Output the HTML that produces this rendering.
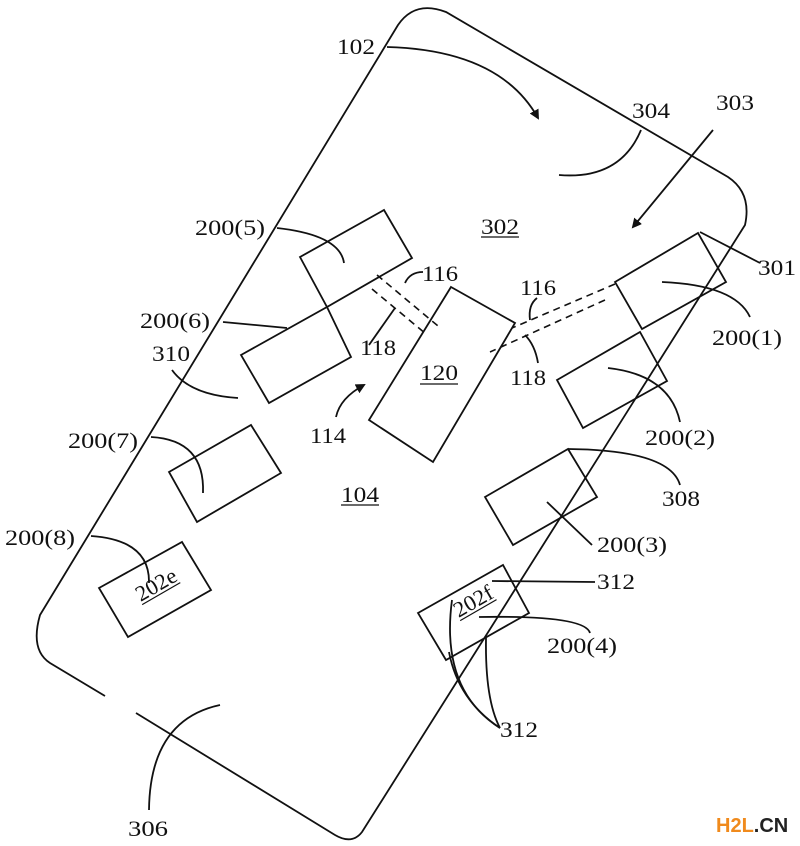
<!DOCTYPE html>
<html><head><meta charset="utf-8"><style>
html,body{margin:0;padding:0;background:#fff;}
svg{display:block;}
text{font-family:"Liberation Serif","Times New Roman",serif;font-size:22px;fill:#111;}
</style></head><body>
<svg width="800" height="846" viewBox="0 0 800 846" xmlns="http://www.w3.org/2000/svg">
<defs>
<marker id="ah" markerWidth="10" markerHeight="10" refX="8" refY="5" orient="auto" markerUnits="userSpaceOnUse"><path d="M0,0 L10,5 L0,10 z" fill="#111"/></marker>
</defs>
<g fill="none" stroke="#111" stroke-width="1.8">
<path d="M105,696 L50,663 Q30,650 40,615 L398,25 Q415,0 446,12 L728,177 Q752,193 745,225 L362,832 Q352,845 335,835 L136,713"/>
<polygon points="615,282 698,233 726,282 642,329"/>
<polygon points="557,380 640,332 667,381 583,428"/>
<polygon points="485,497 568,449 597,497 513,545"/>
<polygon points="451,287 515,323 433,462 369,420"/>
<polygon points="300,257 384,210 412,258 327,307"/>
<polygon points="241,355 327,307 351,357 269,403"/>
<polygon points="169,472 251,425 281,473 197,522"/>
<polygon points="99,588 182,542 211,590 128,637"/>
<polygon points="418,613 503,565 529,613 446,660"/>
<g stroke-dasharray="7,5" stroke-width="1.6">
<line x1="615" y1="284" x2="512" y2="328"/>
<line x1="605" y1="300" x2="490" y2="352"/>
<line x1="377" y1="275" x2="438" y2="326"/>
<line x1="372" y1="289" x2="426" y2="334"/>
</g>
<path d="M387,47 Q500,50 538,118" marker-end="url(#ah)"/>
<path d="M713,130 L633,227" marker-end="url(#ah)"/>
<path d="M641,130 Q620,180 559,175"/>
<path d="M700,232 L760,263"/>
<path d="M662,282 Q735,285 750,317"/>
<path d="M608,368 Q670,375 680,422"/>
<path d="M568,449 Q670,450 680,485"/>
<path d="M547,502 L592,545"/>
<path d="M537,298 Q528,305 530,320"/>
<path d="M525,335 Q535,345 538,363"/>
<path d="M405,283 Q410,272 423,272"/>
<path d="M395,308 L369,345"/>
<path d="M336,417 Q340,398 364,385" marker-end="url(#ah)"/>
<path d="M277,228 Q340,235 344,263"/>
<path d="M223,322 L287,328"/>
<path d="M172,370 Q190,395 238,398"/>
<path d="M151,437 Q205,440 203,493"/>
<path d="M91,536 Q150,540 149,583"/>
<path d="M492,581 L595,582"/>
<path d="M479,617 Q585,615 590,633"/>
<path d="M452,600 Q440,690 500,728"/>
<path d="M486,638 Q485,700 500,728"/>
<path d="M449,652 Q458,700 500,728"/>
<path d="M220,705 Q150,720 149,810"/>
</g>
<text x="337" y="54" textLength="38" lengthAdjust="spacingAndGlyphs">102</text>
<text x="632" y="118" textLength="38" lengthAdjust="spacingAndGlyphs">304</text>
<text x="716" y="110" textLength="38" lengthAdjust="spacingAndGlyphs">303</text>
<text x="481" y="234" textLength="38" lengthAdjust="spacingAndGlyphs">302</text>
<line x1="481" y1="237" x2="519" y2="237" stroke="#111" stroke-width="1.2"/>
<text x="758" y="275" textLength="38" lengthAdjust="spacingAndGlyphs">301</text>
<text x="195" y="235" textLength="70" lengthAdjust="spacingAndGlyphs">200(5)</text>
<text x="140" y="328" textLength="70" lengthAdjust="spacingAndGlyphs">200(6)</text>
<text x="152" y="361" textLength="38" lengthAdjust="spacingAndGlyphs">310</text>
<text x="422" y="281" textLength="36" lengthAdjust="spacingAndGlyphs">116</text>
<text x="520" y="295" textLength="36" lengthAdjust="spacingAndGlyphs">116</text>
<text x="360" y="355" textLength="36" lengthAdjust="spacingAndGlyphs">118</text>
<text x="510" y="385" textLength="36" lengthAdjust="spacingAndGlyphs">118</text>
<text x="420" y="380" textLength="38" lengthAdjust="spacingAndGlyphs">120</text>
<line x1="420" y1="384" x2="458" y2="384" stroke="#111" stroke-width="1.2"/>
<text x="712" y="345" textLength="70" lengthAdjust="spacingAndGlyphs">200(1)</text>
<text x="645" y="445" textLength="70" lengthAdjust="spacingAndGlyphs">200(2)</text>
<text x="662" y="506" textLength="38" lengthAdjust="spacingAndGlyphs">308</text>
<text x="597" y="552" textLength="70" lengthAdjust="spacingAndGlyphs">200(3)</text>
<text x="310" y="443" textLength="36" lengthAdjust="spacingAndGlyphs">114</text>
<text x="68" y="448" textLength="70" lengthAdjust="spacingAndGlyphs">200(7)</text>
<text x="341" y="502" textLength="38" lengthAdjust="spacingAndGlyphs">104</text>
<line x1="341" y1="505" x2="379" y2="505" stroke="#111" stroke-width="1.2"/>
<text x="5" y="545" textLength="70" lengthAdjust="spacingAndGlyphs">200(8)</text>
<g transform="translate(158,592) rotate(-30)"><text x="-20" y="0" textLength="44" lengthAdjust="spacingAndGlyphs">202e</text><line x1="-20" y1="3" x2="24" y2="3" stroke="#111" stroke-width="1.2"/></g>
<g transform="translate(476,608) rotate(-30)"><text x="-20" y="0" textLength="42" lengthAdjust="spacingAndGlyphs">202f</text><line x1="-20" y1="3" x2="22" y2="3" stroke="#111" stroke-width="1.2"/></g>
<text x="597" y="589" textLength="38" lengthAdjust="spacingAndGlyphs">312</text>
<text x="547" y="653" textLength="70" lengthAdjust="spacingAndGlyphs">200(4)</text>
<text x="500" y="737" textLength="38" lengthAdjust="spacingAndGlyphs">312</text>
<text x="128" y="836" textLength="40" lengthAdjust="spacingAndGlyphs">306</text>
<text x="716" y="832" style="font-family:'Liberation Sans',sans-serif;font-weight:bold;font-size:20px;fill:#f08a1c">H2L<tspan fill="#222">.CN</tspan></text>
</svg>
</body></html>
